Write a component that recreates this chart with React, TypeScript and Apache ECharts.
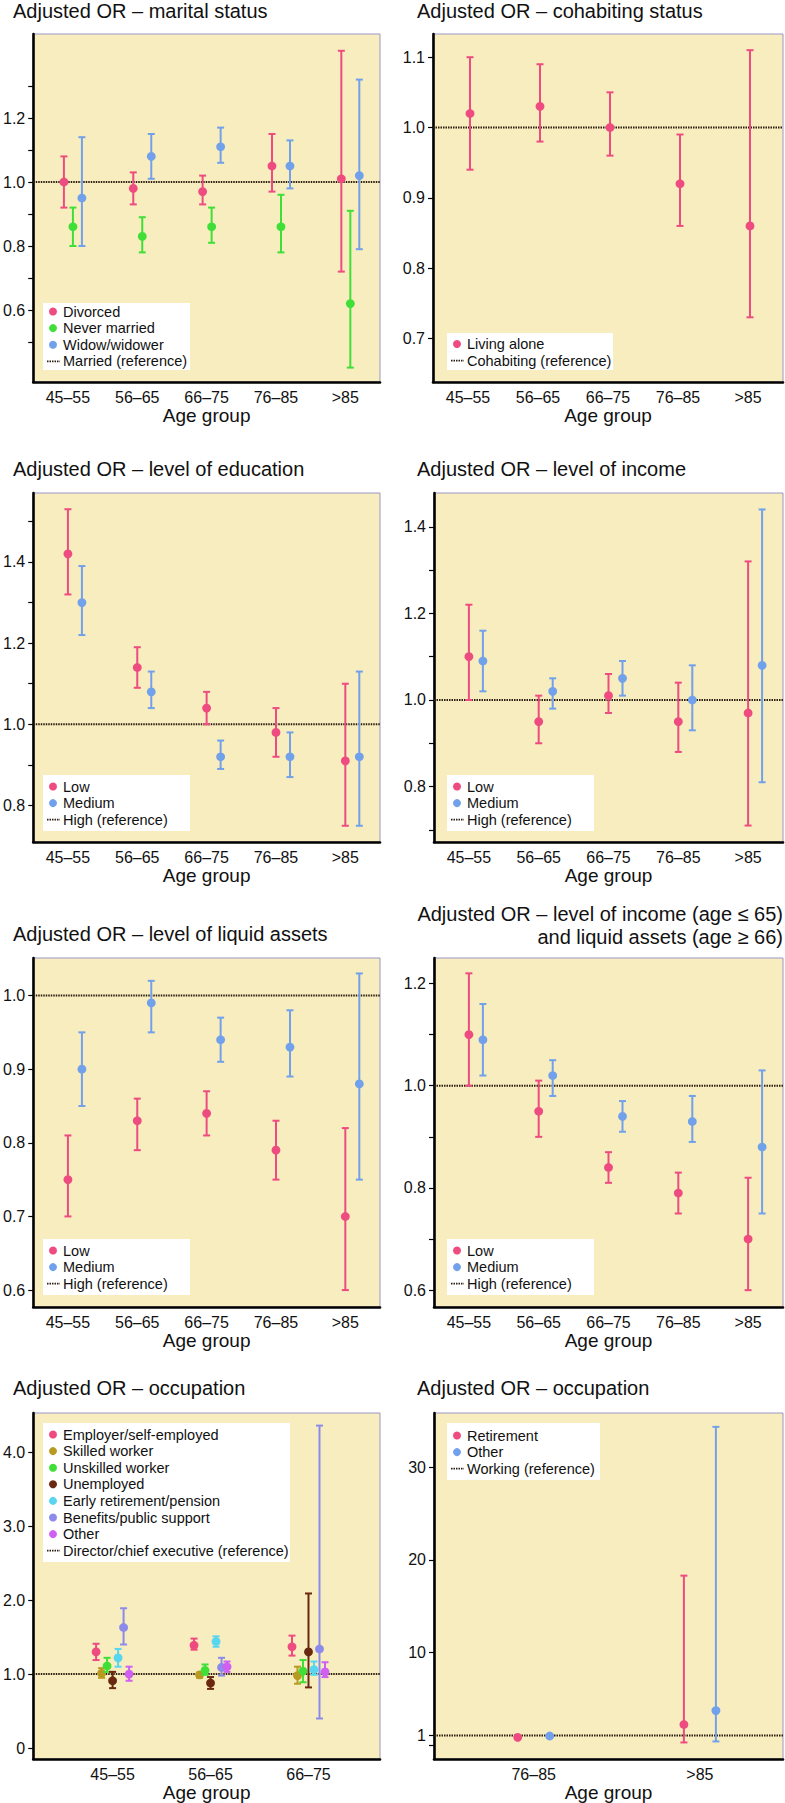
import React, { useEffect, useRef } from "react";
import * as echarts from "echarts";

// ---------- categories ----------
const ageGroups = ["45–55", "56–65", "66–75", "76–85", ">85"];
const occAgesA = ["45–55", "56–65", "66–75"];
const occAgesB = ["76–85", ">85"];

// ---------- panel 1: marital status ----------
const divorcedOR = [1.0, 0.98, 0.97, 1.05, 1.01];
const divorcedLo = [0.92, 0.93, 0.93, 0.97, 0.72];
const divorcedHi = [1.08, 1.03, 1.02, 1.15, 1.41];
const neverOR = [0.86, 0.83, 0.86, 0.86, 0.62];
const neverLo = [0.8, 0.78, 0.81, 0.78, 0.42];
const neverHi = [0.92, 0.89, 0.92, 0.96, 0.91];
const widowOR = [0.95, 1.08, 1.11, 1.05, 1.02];
const widowLo = [0.8, 1.01, 1.06, 0.98, 0.79];
const widowHi = [1.14, 1.15, 1.17, 1.13, 1.32];

// ---------- panel 2: cohabiting ----------
const aloneOR = [1.02, 1.03, 1.0, 0.92, 0.86];
const aloneLo = [0.94, 0.98, 0.96, 0.86, 0.73];
const aloneHi = [1.1, 1.09, 1.05, 0.99, 1.11];

// ---------- panel 3: education ----------
const eduLowOR = [1.42, 1.14, 1.04, 0.98, 0.91];
const eduLowLo = [1.32, 1.09, 1.0, 0.92, 0.75];
const eduLowHi = [1.53, 1.19, 1.08, 1.04, 1.1];
const eduMedOR = [1.3, 1.08, 0.92, 0.92, 0.92];
const eduMedLo = [1.22, 1.04, 0.89, 0.87, 0.75];
const eduMedHi = [1.39, 1.13, 0.96, 0.98, 1.13];

// ---------- panel 4: income ----------
const incLowOR = [1.1, 0.95, 1.01, 0.95, 0.97];
const incLowLo = [1.0, 0.9, 0.97, 0.88, 0.71];
const incLowHi = [1.22, 1.01, 1.06, 1.04, 1.32];
const incMedOR = [1.09, 1.02, 1.05, 1.0, 1.08];
const incMedLo = [1.02, 0.98, 1.01, 0.93, 0.81];
const incMedHi = [1.16, 1.05, 1.09, 1.08, 1.44];

// ---------- panel 5: liquid assets ----------
const liqLowOR = [0.75, 0.83, 0.84, 0.79, 0.7];
const liqLowLo = [0.7, 0.79, 0.81, 0.75, 0.6];
const liqLowHi = [0.81, 0.86, 0.87, 0.83, 0.82];
const liqMedOR = [0.9, 0.99, 0.94, 0.93, 0.88];
const liqMedLo = [0.85, 0.95, 0.91, 0.89, 0.75];
const liqMedHi = [0.95, 1.02, 0.97, 0.98, 1.03];

// ---------- panel 6: income (<=65) and liquid assets (>=66) ----------
const comLowOR = [1.1, 0.95, 0.84, 0.79, 0.7];
const comLowLo = [1.0, 0.9, 0.81, 0.75, 0.6];
const comLowHi = [1.22, 1.01, 0.87, 0.83, 0.82];
const comMedOR = [1.09, 1.02, 0.94, 0.93, 0.88];
const comMedLo = [1.02, 0.98, 0.91, 0.89, 0.75];
const comMedHi = [1.16, 1.05, 0.97, 0.98, 1.03];

// ---------- panel 7: occupation (45–75) ----------
const employerOR = [1.3, 1.39, 1.37];
const employerLo = [1.19, 1.33, 1.25];
const employerHi = [1.41, 1.48, 1.52];
const skilledOR = [1.01, 0.99, 0.98];
const skilledLo = [0.95, 0.95, 0.87];
const skilledHi = [1.08, 1.02, 1.1];
const unskilledOR = [1.11, 1.05, 1.04];
const unskilledLo = [1.03, 0.99, 0.89];
const unskilledHi = [1.22, 1.13, 1.19];
const unemployedOR = [0.91, 0.88, 1.3];
const unemployedLo = [0.81, 0.8, 0.82];
const unemployedHi = [1.03, 0.96, 2.09];
const earlyRetOR = [1.22, 1.44, 1.06];
const earlyRetLo = [1.1, 1.37, 0.99];
const earlyRetHi = [1.34, 1.51, 1.17];
const benefitsOR = [1.63, 1.09, 1.34];
const benefitsLo = [1.4, 0.98, 0.4];
const benefitsHi = [1.89, 1.22, 4.36];
const otherOccOR = [1.0, 1.1, 1.03];
const otherOccLo = [0.91, 1.03, 0.96];
const otherOccHi = [1.1, 1.17, 1.16];

// ---------- panel 8: occupation (76+) ----------
const retirementOR = [0.8, 2.2];
const retirementLo = [0.72, 0.25];
const retirementHi = [0.88, 18.3];
const otherOldOR = [0.95, 3.7];
const otherOldLo = [0.85, 0.36];
const otherOldHi = [1.05, 34.4];

// ---------- y-axis tick labels ----------
const ticksP1 = [0.6, 0.8, 1.0, 1.2];
const minorP1 = [0.5, 0.7, 0.9, 1.1, 1.3];
const ticksP2 = [0.7, 0.8, 0.9, 1.0, 1.1];
const ticksP3 = [0.8, 1.0, 1.2, 1.4];
const minorP3 = [0.9, 1.1, 1.3, 1.5];
const ticksP4 = [0.8, 1.0, 1.2, 1.4];
const minorP4 = [0.7, 0.9, 1.1, 1.3];
const ticksP5 = [0.6, 0.7, 0.8, 0.9, 1.0];
const ticksP6 = [0.6, 0.8, 1.0, 1.2];
const minorP6 = [0.7, 0.9, 1.1];
const ticksP7 = [0, 1, 2, 3, 4];
const ticksP8 = [1, 10, 20, 30];
const minorP8 = [0];

// ---------- colours ----------
const PINK = "#EE4C80";
const GREEN = "#40DF38";
const BLUE = "#72A1EC";
const OLIVE = "#B99A20";
const BROWN = "#6A2810";
const CYAN = "#58D6F0";
const LAVENDER = "#8C8AEA";
const MAGENTA = "#CF60F2";
const REFCOL = "#2b1d10";
const PLOTBG = "#F8EDBF";
const FONT = '"Liberation Sans", Arial, Helvetica, sans-serif';

type Ser = { name: string; color: string; v: number[]; lo: number[]; hi: number[] };
type Panel = {
  title: string[];
  titleAlign: "left" | "right";
  titleX: number;
  titleY: number;
  grid: { left: number; top: number; width: number; height: number };
  yMin: number;
  yMax: number;
  ticks: number[];
  minor: number[];
  fmt: (v: number) => string;
  cats: string[];
  xMin: number;
  xMax: number;
  offsets: number[];
  series: Ser[];
  refLabel: string;
  legend: { x: number; y: number; w: number; h: number; row0: number; step: number };
};

const f1 = (v: number) => v.toFixed(1);

const panels: Panel[] = [
  {
    title: ["Adjusted OR – marital status"], titleAlign: "left", titleX: 13, titleY: 11,
    grid: { left: 31, top: 34, width: 349, height: 348 },
    yMin: 0.375, yMax: 1.4625, ticks: ticksP1, minor: minorP1, fmt: f1,
    cats: ageGroups, xMin: -0.5, xMax: 4.5, offsets: [-4, 5, 14],
    series: [
      { name: "Divorced", color: PINK, v: divorcedOR, lo: divorcedLo, hi: divorcedHi },
      { name: "Never married", color: GREEN, v: neverOR, lo: neverLo, hi: neverHi },
      { name: "Widow/widower", color: BLUE, v: widowOR, lo: widowLo, hi: widowHi },
    ],
    refLabel: "Married (reference)",
    legend: { x: 43, y: 303, w: 147, h: 67, row0: 311.5, step: 16.6 },
  },
  {
    title: ["Adjusted OR – cohabiting status"], titleAlign: "left", titleX: 417, titleY: 11,
    grid: { left: 433, top: 34, width: 350, height: 348 },
    yMin: 0.638, yMax: 1.133, ticks: ticksP2, minor: [], fmt: f1,
    cats: ageGroups, xMin: -0.5, xMax: 4.5, offsets: [2],
    series: [{ name: "Living alone", color: PINK, v: aloneOR, lo: aloneLo, hi: aloneHi }],
    refLabel: "Cohabiting (reference)",
    legend: { x: 447, y: 333, w: 166, h: 37, row0: 344, step: 16.6 },
  },
  {
    title: ["Adjusted OR – level of education"], titleAlign: "left", titleX: 13, titleY: 469,
    grid: { left: 31, top: 493, width: 349, height: 349 },
    yMin: 0.71, yMax: 1.57, ticks: ticksP3, minor: minorP3, fmt: f1,
    cats: ageGroups, xMin: -0.5, xMax: 4.5, offsets: [0, 14],
    series: [
      { name: "Low", color: PINK, v: eduLowOR, lo: eduLowLo, hi: eduLowHi },
      { name: "Medium", color: BLUE, v: eduMedOR, lo: eduMedLo, hi: eduMedHi },
    ],
    refLabel: "High (reference)",
    legend: { x: 43, y: 775, w: 147, h: 56, row0: 786.5, step: 16.6 },
  },
  {
    title: ["Adjusted OR – level of income"], titleAlign: "left", titleX: 417, titleY: 469,
    grid: { left: 434, top: 493, width: 349, height: 349 },
    yMin: 0.672, yMax: 1.478, ticks: ticksP4, minor: minorP4, fmt: f1,
    cats: ageGroups, xMin: -0.5, xMax: 4.5, offsets: [0, 14],
    series: [
      { name: "Low", color: PINK, v: incLowOR, lo: incLowLo, hi: incLowHi },
      { name: "Medium", color: BLUE, v: incMedOR, lo: incMedLo, hi: incMedHi },
    ],
    refLabel: "High (reference)",
    legend: { x: 447, y: 775, w: 147, h: 56, row0: 786.5, step: 16.6 },
  },
  {
    title: ["Adjusted OR – level of liquid assets"], titleAlign: "left", titleX: 13, titleY: 934,
    grid: { left: 31, top: 958, width: 349, height: 349 },
    yMin: 0.577, yMax: 1.051, ticks: ticksP5, minor: [], fmt: f1,
    cats: ageGroups, xMin: -0.5, xMax: 4.5, offsets: [0, 14],
    series: [
      { name: "Low", color: PINK, v: liqLowOR, lo: liqLowLo, hi: liqLowHi },
      { name: "Medium", color: BLUE, v: liqMedOR, lo: liqMedLo, hi: liqMedHi },
    ],
    refLabel: "High (reference)",
    legend: { x: 43, y: 1239, w: 147, h: 56, row0: 1250.5, step: 16.6 },
  },
  {
    title: ["Adjusted OR – level of income (age ≤ 65)", "and liquid assets (age ≥ 66)"],
    titleAlign: "right", titleX: 783, titleY: 914,
    grid: { left: 434, top: 958, width: 349, height: 349 },
    yMin: 0.567, yMax: 1.25, ticks: ticksP6, minor: minorP6, fmt: f1,
    cats: ageGroups, xMin: -0.5, xMax: 4.5, offsets: [0, 14],
    series: [
      { name: "Low", color: PINK, v: comLowOR, lo: comLowLo, hi: comLowHi },
      { name: "Medium", color: BLUE, v: comMedOR, lo: comMedLo, hi: comMedHi },
    ],
    refLabel: "High (reference)",
    legend: { x: 447, y: 1239, w: 147, h: 56, row0: 1250.5, step: 16.6 },
  },
  {
    title: ["Adjusted OR – occupation"], titleAlign: "left", titleX: 13, titleY: 1388,
    grid: { left: 31, top: 1413, width: 349, height: 348 },
    yMin: -0.148, yMax: 4.53, ticks: ticksP7, minor: [], fmt: (v) => (v === 0 ? "0" : v.toFixed(1)),
    cats: occAgesA, xMin: -0.81, xMax: 2.73, offsets: [-16.5, -11, -5.5, 0, 5.5, 11, 16.5],
    series: [
      { name: "Employer/self-employed", color: PINK, v: employerOR, lo: employerLo, hi: employerHi },
      { name: "Skilled worker", color: OLIVE, v: skilledOR, lo: skilledLo, hi: skilledHi },
      { name: "Unskilled worker", color: GREEN, v: unskilledOR, lo: unskilledLo, hi: unskilledHi },
      { name: "Unemployed", color: BROWN, v: unemployedOR, lo: unemployedLo, hi: unemployedHi },
      { name: "Early retirement/pension", color: CYAN, v: earlyRetOR, lo: earlyRetLo, hi: earlyRetHi },
      { name: "Benefits/public support", color: LAVENDER, v: benefitsOR, lo: benefitsLo, hi: benefitsHi },
      { name: "Other", color: MAGENTA, v: otherOccOR, lo: otherOccLo, hi: otherOccHi },
    ],
    refLabel: "Director/chief executive (reference)",
    legend: { x: 43, y: 1423, w: 247, h: 139, row0: 1434.5, step: 16.6 },
  },
  {
    title: ["Adjusted OR – occupation"], titleAlign: "left", titleX: 417, titleY: 1388,
    grid: { left: 434, top: 1413, width: 349, height: 348 },
    yMin: -1.54, yMax: 35.9, ticks: ticksP8, minor: minorP8, fmt: (v) => String(v),
    cats: occAgesB, xMin: -0.6, xMax: 1.5, offsets: [-16, 16],
    series: [
      { name: "Retirement", color: PINK, v: retirementOR, lo: retirementLo, hi: retirementHi },
      { name: "Other", color: BLUE, v: otherOldOR, lo: otherOldLo, hi: otherOldHi },
    ],
    refLabel: "Working (reference)",
    legend: { x: 447, y: 1423, w: 153, h: 57, row0: 1435.5, step: 16.6 },
  },
];

function buildOption() {
  const grid: any[] = [];
  const xAxis: any[] = [];
  const yAxis: any[] = [];
  const series: any[] = [];
  const graphic: any[] = [];

  panels.forEach((p, pi) => {
    grid.push({
      left: p.grid.left, top: p.grid.top, width: p.grid.width, height: p.grid.height,
      show: true, backgroundColor: PLOTBG, borderColor: "#9b96c6", borderWidth: 1,
      containLabel: false,
    });
    const catIdx = p.cats.map((_, i) => i);
    xAxis.push({
      type: "value", gridIndex: pi, min: p.xMin, max: p.xMax,
      axisLine: { show: true, onZero: false, lineStyle: { color: "#000", width: 2.6 } },
      axisTick: { show: false },
      splitLine: { show: false },
      axisLabel: {
        customValues: catIdx,
        formatter: (v: number) => p.cats[Math.round(v)] ?? "",
        fontSize: 16, fontFamily: FONT, color: "#111", margin: 7,
      },
      name: "Age group", nameLocation: "middle", nameGap: 24,
      nameTextStyle: { fontSize: 19, fontFamily: FONT, color: "#111", verticalAlign: "top" },
    });
    yAxis.push({
      type: "value", gridIndex: pi, min: p.yMin, max: p.yMax,
      axisLine: { show: true, onZero: false, lineStyle: { color: "#000", width: 2.6 } },
      axisTick: {
        show: true, length: 5, lineStyle: { color: "#000", width: 1.2 },
        customValues: [...p.ticks, ...p.minor],
      },
      splitLine: { show: false },
      axisLabel: {
        customValues: p.ticks, formatter: p.fmt,
        fontSize: 16, fontFamily: FONT, color: "#111", margin: 8,
      },
    });

    // reference line (OR = 1)
    series.push({
      type: "line", xAxisIndex: pi, yAxisIndex: pi, silent: true, symbol: "none", z: 3,
      data: [[p.xMin, 1], [p.xMax, 1]],
      lineStyle: { color: REFCOL, width: 2, type: [1.5, 1] },
    });

    p.series.forEach((s, si) => {
      const off = p.offsets[si] ?? 0;
      series.push({
        type: "custom", name: s.name, xAxisIndex: pi, yAxisIndex: pi, z: 5, clip: false,
        encode: { x: 0, y: [1, 2, 3] },
        data: s.v.map((val, i) => [i, val, s.lo[i], s.hi[i]]),
        renderItem: (_params: any, api: any) => {
          const xv = api.value(0);
          const c = api.coord([xv, api.value(1)]);
          const l = api.coord([xv, api.value(2)]);
          const h = api.coord([xv, api.value(3)]);
          const x = c[0] + off;
          const st = { stroke: s.color, lineWidth: 2 };
          return {
            type: "group",
            children: [
              { type: "line", shape: { x1: x, y1: h[1], x2: x, y2: l[1] }, style: st },
              { type: "line", shape: { x1: x - 3.5, y1: h[1], x2: x + 3.5, y2: h[1] }, style: st },
              { type: "line", shape: { x1: x - 3.5, y1: l[1], x2: x + 3.5, y2: l[1] }, style: st },
              { type: "circle", shape: { cx: x, cy: c[1], r: 4.4 }, style: { fill: s.color } },
            ],
          };
        },
      });
    });

    // title
    p.title.forEach((t, ti) => {
      graphic.push({
        type: "text", x: p.titleX, y: p.titleY + ti * 23, z: 10,
        style: {
          text: t, fill: "#111", fontSize: 20, fontFamily: FONT,
          align: p.titleAlign, verticalAlign: "middle",
        },
      });
    });

    // legend
    const L = p.legend;
    graphic.push({
      type: "rect", x: L.x, y: L.y, shape: { width: L.w, height: L.h }, z: 20,
      style: { fill: "#ffffff" },
    });
    p.series.forEach((s, si) => {
      const yy = L.row0 + si * L.step;
      graphic.push({ type: "circle", z: 21, shape: { cx: L.x + 10, cy: yy, r: 4 }, style: { fill: s.color } });
      graphic.push({
        type: "text", z: 21, x: L.x + 20, y: yy,
        style: { text: s.name, fill: "#111", fontSize: 14.5, fontFamily: FONT, verticalAlign: "middle" },
      });
    });
    const yr = L.row0 + p.series.length * L.step;
    graphic.push({
      type: "line", z: 21, shape: { x1: L.x + 4, y1: yr, x2: L.x + 17, y2: yr },
      style: { stroke: REFCOL, lineWidth: 1.8, lineDash: [1.5, 1] },
    });
    graphic.push({
      type: "text", z: 21, x: L.x + 20, y: yr,
      style: { text: p.refLabel, fill: "#111", fontSize: 14.5, fontFamily: FONT, verticalAlign: "middle" },
    });
  });

  return {
    animation: false,
    backgroundColor: "#ffffff",
    textStyle: { fontFamily: FONT },
    grid, xAxis, yAxis, series, graphic,
  };
}

export default function App() {
  const ref = useRef<HTMLDivElement>(null);
  useEffect(() => {
    const chart = echarts.init(ref.current as HTMLDivElement, null, { renderer: "svg" });
    chart.setOption(buildOption() as any);
    return () => chart.dispose();
  }, []);
  return (
    <div
      ref={ref}
      style={{ position: "absolute", left: 0, top: 0, width: 785, height: 1803, background: "#fff" }}
    />
  );
}
